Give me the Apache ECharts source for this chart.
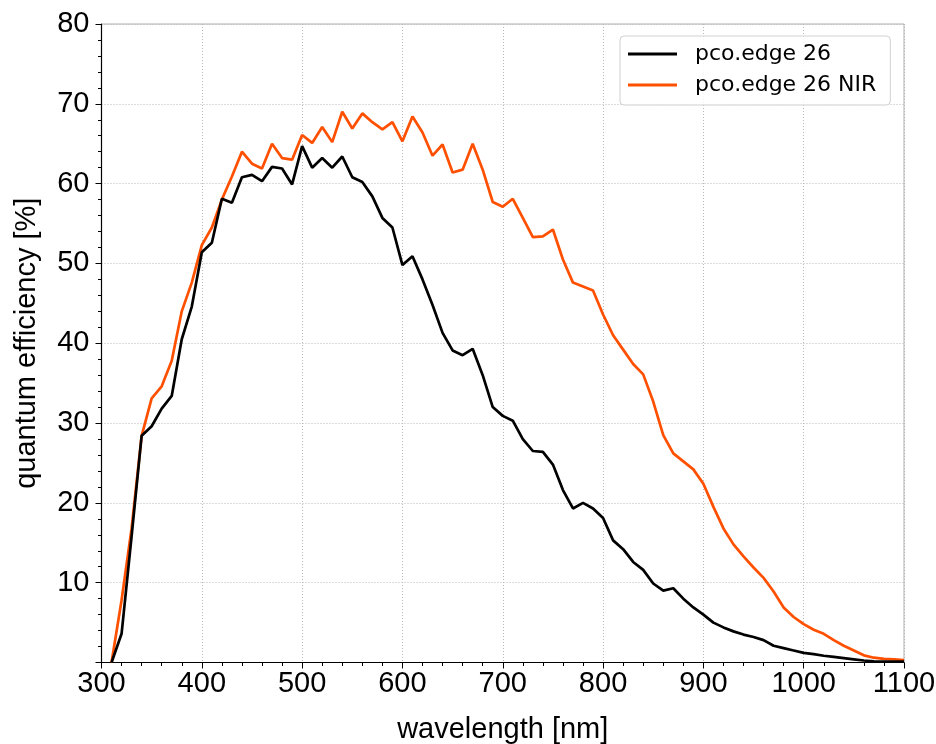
<!DOCTYPE html>
<html>
<head>
<meta charset="utf-8">
<script src="https://cdn.jsdelivr.net/npm/echarts@6/dist/echarts.min.js"></script>
<style>html,body{margin:0;padding:0;background:#fff}#c{width:936px;height:744px}</style>
</head>
<body>
<div id="c"></div>
<script>
const wavelengths = [310,320,330,340,350,360,370,380,390,400,410,420,430,440,450,460,470,480,490,500,510,520,530,540,550,560,570,580,590,600,610,620,630,640,650,660,670,680,690,700,710,720,730,740,750,760,770,780,790,800,810,820,830,840,850,860,870,880,890,900,910,920,930,940,950,960,970,980,990,1000,1010,1020,1030,1040,1050,1060,1070,1080,1090,1100];
const qeEdge26 = [0,3.6,15.8,28.4,29.6,31.8,33.4,40.5,44.6,51.4,52.6,58.1,57.6,60.8,61.1,60.3,62.1,61.9,59.9,64.7,62.0,63.2,62.0,63.4,60.8,60.2,58.4,55.7,54.5,49.8,50.9,48.0,44.8,41.3,39.1,38.5,39.3,36.0,32.0,30.9,30.3,28.0,26.5,26.4,24.8,21.6,19.3,20.0,19.3,18.1,15.3,14.2,12.6,11.6,9.9,9.0,9.3,8.0,6.9,6.0,5.0,4.4,3.9,3.5,3.2,2.8,2.1,1.8,1.5,1.2,1.05,0.85,0.7,0.55,0.4,0.25,0.15,0.12,0.1,0.1];
const qeEdge26NIR = [0,7.8,16.8,28.4,33.1,34.6,37.8,44.0,47.6,52.3,54.5,58.0,60.9,64.0,62.5,61.9,65.0,63.2,63.0,66.1,65.1,67.1,65.2,69.0,66.9,68.8,67.7,66.8,67.7,65.3,68.4,66.4,63.5,64.9,61.4,61.75,65.0,61.75,57.7,57.1,58.1,55.7,53.3,53.4,54.25,50.5,47.6,47.1,46.6,43.6,41.0,39.2,37.4,36.1,32.7,28.5,26.2,25.2,24.2,22.4,19.5,16.8,14.8,13.3,11.9,10.6,8.9,6.9,5.7,4.8,4.1,3.6,2.8,2.1,1.5,0.9,0.6,0.45,0.4,0.3];
const seriesNames = ['pco.edge 26', 'pco.edge 26 NIR'];
const xTitle = 'wavelength [nm]';
const yTitle = 'quantum efficiency [%]';

const pair = arr => wavelengths.map((w, i) => [w, arr[i]]);
const FONT = 'Liberation Sans, Arial, sans-serif';
const tickFont = {fontFamily: FONT, fontSize: 29, color: '#000'};
const gridLine = {show: true, lineStyle: {color: '#b8b8b8', width: 1, type: [1, 2]}};

const chart = echarts.init(document.getElementById('c'), null, {renderer: 'canvas'});
chart.setOption({
  animation: false,
  backgroundColor: '#fff',
  grid: {left: 101.5, right: 32, top: 24, bottom: 81.5, outerBoundsMode: 'none', containLabel: false, show: true, borderColor: '#b0b0b0', borderWidth: 1, backgroundColor: 'transparent'},
  legend: {
    left: 620, top: 36, orient: 'vertical',
    backgroundColor: 'rgba(255,255,255,0.85)', borderColor: '#d0d0d0', borderWidth: 1, borderRadius: 4,
    padding: [7, 14, 9, 8], itemGap: 9, itemWidth: 49, itemHeight: 3,
    icon: 'rect',
    formatter: name => '{t|' + name + '}',
    textStyle: {fontFamily: 'DejaVu Sans', fontSize: 22, color: '#000', rich: {t: {fontFamily: 'DejaVu Sans', fontSize: 22, color: '#000', lineHeight: 25, padding: [0, 0, 0, 13]}}},
    data: seriesNames
  },
  xAxis: {
    type: 'value', min: 300, max: 1100, interval: 100,
    name: xTitle, nameLocation: 'middle', nameGap: 53,
    nameTextStyle: {fontFamily: FONT, fontSize: 29, color: '#000'},
    axisLine: {show: true, onZero: false, lineStyle: {color: '#000', width: 1.2}},
    axisTick: {show: true, length: 6, lineStyle: {color: '#000', width: 1}},
    minorTick: {show: true, splitNumber: 5, length: 3.5, lineStyle: {color: '#000', width: 1}},
    axisLabel: Object.assign({margin: 7, formatter: v => String(v)}, tickFont),
    splitLine: gridLine
  },
  yAxis: {
    type: 'value', min: 0, max: 80, interval: 10,
    name: yTitle, nameLocation: 'middle', nameGap: 60, nameRotate: 90,
    nameTextStyle: {fontFamily: FONT, fontSize: 29, color: '#000'},
    axisLine: {show: true, onZero: false, lineStyle: {color: '#000', width: 1.2}},
    axisTick: {show: true, length: 6, lineStyle: {color: '#000', width: 1}},
    minorTick: {show: true, splitNumber: 5, length: 3.5, lineStyle: {color: '#000', width: 1}},
    axisLabel: Object.assign({margin: 12, formatter: v => v === 0 ? '' : String(v)}, tickFont),
    splitLine: gridLine
  },
  series: [
    {name: seriesNames[0], type: 'line', data: pair(qeEdge26), symbol: 'none', lineStyle: {color: '#000', width: 2.7}, itemStyle: {color: '#000'}, z: 3},
    {name: seriesNames[1], type: 'line', data: pair(qeEdge26NIR), symbol: 'none', lineStyle: {color: '#ff5000', width: 2.7}, itemStyle: {color: '#ff5000'}, z: 2}
  ]
});
</script>
</body>
</html>
